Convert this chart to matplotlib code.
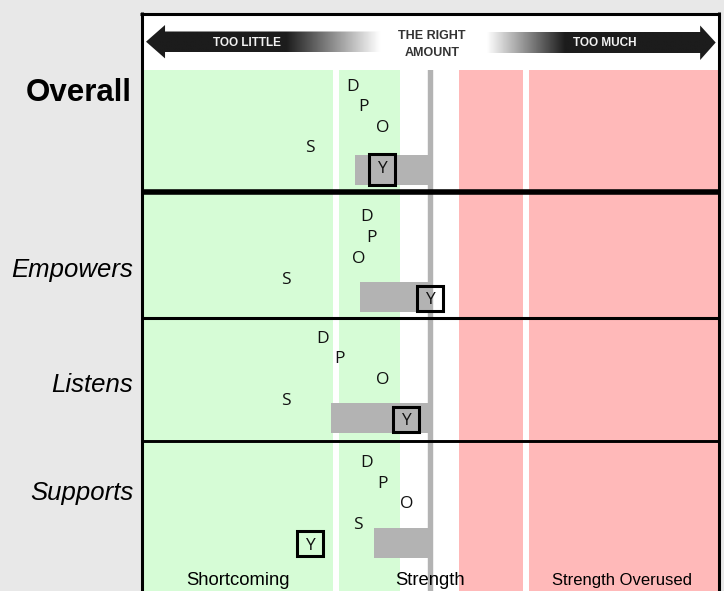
import numpy as np
import matplotlib.pyplot as plt
from matplotlib.patches import Rectangle, Polygon
from matplotlib.lines import Line2D
from matplotlib.colors import LinearSegmentedColormap
import matplotlib.transforms as mtransforms

# ---------- data (0-100 scale, 50 = the right amount) ----------
competencies = ['Overall', 'Empowers', 'Listens', 'Supports']
raters = ['D', 'P', 'O', 'S', 'Y']

overall = [36.5, 38.5, 41.7, 29.2, 41.7]
empowers = [39.0, 39.8, 37.6, 25.0, 50.0]
listens = [31.4, 34.3, 41.7, 25.0, 45.9]
supports = [39.0, 41.7, 45.9, 37.5, 29.2]
scores = [overall, empowers, listens, supports]

# gray bar runs from this value up to the right amount
bar_start = [37.0, 37.8, 32.8, 40.3]
right_amount = 50

green_zones = [(0, 33.2), (34.2, 44.85)]
red_zones = [(55.0, 66.2), (67.2, 100)]
zone_labels = ['Shortcoming', 'Strength', 'Strength Overused']
zone_centers = [16.6, 50, 83.3]

# ---------- layout ----------
W, H = 724, 591
X0, X1 = 142, 718
BG = '#e8e8e8'
GREEN = '#d6fcd6'
RED = '#ffb9b9'
GRAY = '#b3b3b3'

rows_px = [(70, 192), (192, 317.5), (317.5, 440.5), (440.5, 591)]
level0_px = [14.7, 23.4, 19.0, 20.5]
level_px = [20.55, 20.7, 20.7, 20.7]
bar_mid = [4.13, 3.95, 3.95, 3.95]
box_mid = [4.15, 4.0, 4.0, 4.0]
box_h_px = [31, 25, 25, 25]
label_base = [101, 277, 392, 500]
label_right = [132, 133, 133, 134]


def fig_box(left, top, right, bottom):
    return [left / W, 1 - bottom / H, (right - left) / W, (bottom - top) / H]


def clean(ax):
    ax.set_xticks([])
    ax.set_yticks([])
    for s in ax.spines.values():
        s.set_visible(False)
    ax.set_facecolor('white')


fig = plt.figure(figsize=(W / 100, H / 100), dpi=100, facecolor=BG)

# ---------- header arrows ----------
hax = fig.add_axes(fig_box(X0, 13, X1, 70))
clean(hax)
hax.set_xlim(0, 100)
hax.set_ylim(70, 13)

cmap = LinearSegmentedColormap.from_list('arr', ['white', '#1c1c1c'])
xs = np.linspace(0, 100, 600)
shade = np.interp(xs, [0, 25, 41.3, 59.9, 73.5, 100], [1, 1, 0, 0, 1, 1])

left_arrow = [(0.7, 41.7), (4.0, 25), (4.0, 31.5), (42, 31.5), (42, 52), (4.0, 52), (4.0, 58.4)]
right_arrow = [(99.6, 42.5), (96.9, 25.5), (96.9, 32), (58, 32), (58, 53), (96.9, 53), (96.9, 60)]
for pts in [left_arrow, right_arrow]:
    im = hax.imshow(shade[None, :], extent=(0, 100, 70, 13), aspect='auto',
                    cmap=cmap, vmin=0, vmax=1, interpolation='bilinear')
    im.set_clip_path(Polygon(pts, closed=True, transform=hax.transData))

hax.text(18.2, 42.5, 'TOO LITTLE', ha='center', va='center', color='#f2f2f2',
         fontsize=8.5, weight='bold', family='Liberation Sans')
hax.text(80.4, 43, 'TOO MUCH', ha='center', va='center', color='#f2f2f2',
         fontsize=8.5, weight='bold', family='Liberation Sans')
hax.text(50.3, 44.5, 'THE RIGHT\nAMOUNT', ha='center', va='center', color='#333333',
         fontsize=9, weight='bold', family='Liberation Sans', linespacing=1.45)

# ---------- rows ----------
for i, (top, bottom) in enumerate(rows_px):
    ax = fig.add_axes(fig_box(X0, top, X1, bottom))
    clean(ax)
    h = bottom - top
    lp = level_px[i]
    l_top = -level0_px[i] / lp
    ax.set_xlim(0, 100)
    ax.set_ylim(l_top + h / lp, l_top)

    for a, b in green_zones:
        ax.axvspan(a, b, color=GREEN, lw=0)
    for a, b in red_zones:
        ax.axvspan(a, b, color=RED, lw=0)
    ax.axvline(right_amount, color=GRAY, lw=3.9)

    ax.barh(bar_mid[i], right_amount - bar_start[i], left=bar_start[i],
            height=30 / lp, color=GRAY, lw=0)

    for k, (r, v) in enumerate(zip(raters, scores[i])):
        ax.text(v, k + 0.1, r, ha='center', va='center', fontsize=12.5,
                family='Open Sans', color='#111111')

    # box around the self rating
    bw = 26 / (X1 - X0) * 100
    bh = box_h_px[i] / lp
    yv = scores[i][4]
    ax.add_patch(Rectangle((yv - bw / 2, box_mid[i] - bh / 2), bw, bh, fill=False,
                           ec='black', lw=2.2, zorder=5))

    fig.text(label_right[i] / W, 1 - label_base[i] / H, competencies[i],
             ha='right', va='baseline', family='Liberation Sans',
             fontsize=22.5 if i == 0 else 18.5,
             weight='bold' if i == 0 else 'normal',
             style='normal' if i == 0 else 'italic')

    if i == 3:
        trans = mtransforms.blended_transform_factory(ax.transData, ax.transAxes)
        for lab, xc in zip(zone_labels, zone_centers):
            ax.text(xc, (591 - 585) / h, lab, transform=trans, ha='center',
                    va='baseline', family='Liberation Sans',
                    fontsize=12 if lab == 'Strength Overused' else 13.3)

# ---------- frame and separators ----------
def fig_line(x0, y0, x1, y1, lw):
    fig.add_artist(Line2D([x0 / W, x1 / W], [1 - y0 / H, 1 - y1 / H],
                          transform=fig.transFigure, color='black', lw=lw,
                          solid_capstyle='butt'))


fig_line(141.5, 12, 141.5, 591, 2.2)
fig_line(718.5, 12, 718.5, 591, 2.2)
fig_line(140, 13.5, 720, 13.5, 2.2)
fig_line(141.5, 192, 718.5, 192, 4.0)
fig_line(141.5, 317.5, 718.5, 317.5, 2.2)
fig_line(141.5, 440.5, 718.5, 440.5, 2.1)

fig.savefig('out.png', dpi=100, facecolor=BG)
